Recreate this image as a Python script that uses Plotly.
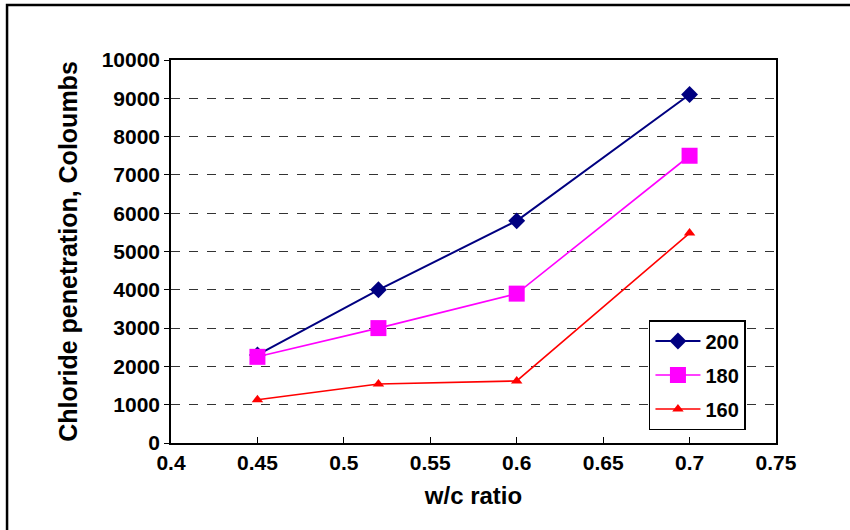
import plotly.graph_objects as go

wc_ratio = [0.45, 0.52, 0.6, 0.7]
series_names = ["200", "180", "160"]
values_200 = [2300, 4000, 5800, 9100]
values_180 = [2250, 3000, 3900, 7500]
values_160 = [1130, 1540, 1620, 5480]

colors = ["#000080", "#FF00FF", "#FF0000"]
symbols = ["diamond", "square", "triangle-up"]
msizes = [13, 16, 10]
lwidths = [2, 1.6, 1.6]

fig = go.Figure()
for name, vals, c, s, ms, lw in zip(series_names, [values_200, values_180, values_160], colors, symbols, msizes, lwidths):
    fig.add_trace(go.Scatter(x=wc_ratio, y=vals, name=name, mode="lines+markers",
                             legendgroup=name,
                             line=dict(color=c, width=lw),
                             marker=dict(symbol=s, size=ms, color=c)))

font_family = "Liberation Sans, Arial, sans-serif"
fig.update_layout(
    width=850, height=530,
    margin=dict(l=171, r=74, t=60, b=87),
    paper_bgcolor="white", plot_bgcolor="white",
    font=dict(family=font_family, color="black"),
    showlegend=True,
    legend=dict(x=0.79, y=0.321, xanchor="left", yanchor="top",
                bgcolor="white", bordercolor="black", borderwidth=1.5,
                font=dict(size=20, family=font_family, weight="bold"),
                tracegroupgap=5, itemwidth=45),
    xaxis=dict(range=[0.4, 0.75], dtick=0.05, tickformat="~g",
               showgrid=False, zeroline=False,
               showline=True, linecolor="black", linewidth=1.5, mirror=True,
               ticks="inside", ticklen=6, tickcolor="black",
               tickfont=dict(size=21, weight="bold"),
               title=dict(text="w/c ratio", font=dict(size=24, weight="bold"), standoff=14)),
    yaxis=dict(range=[0, 10000], dtick=1000, tickformat="d",
               showgrid=True, gridcolor="#333333", griddash="dash", gridwidth=1.3,
               zeroline=False,
               showline=True, linecolor="black", linewidth=1.5, mirror=True,
               ticks="outside", ticklen=5, tickcolor="black",
               tickfont=dict(size=21, weight="bold"),
               title=dict(text="Chloride penetration, Coloumbs", font=dict(size=25, weight="bold"), standoff=17)),
)

fig.add_shape(type="rect", xref="paper", yref="paper",
              x0=-0.271, x1=1.3, y0=-0.4, y1=1.1436,
              line=dict(color="black", width=2.5), layer="below")

fig.write_html("out.html")
